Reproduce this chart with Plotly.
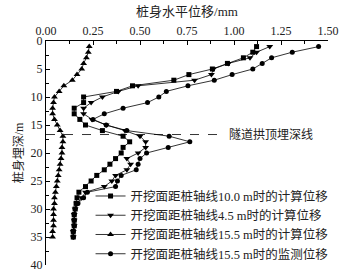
import plotly.graph_objects as go

depth = list(range(1, 36))

calc_10_0 = [1.12, 1.10, 1.05, 0.965, 0.885, 0.76, 0.68, 0.46, 0.375, 0.20,
             0.20, 0.15, 0.15, 0.18, 0.21, 0.30, 0.41, 0.445, 0.41, 0.40,
             0.37, 0.34, 0.31, 0.27, 0.24, 0.21, 0.175, 0.165, 0.16, 0.155,
             0.15, 0.15, 0.15, 0.145, 0.145]

calc_4_5 = [1.19, 1.12, 1.085, 0.97, 0.89, 0.88, 0.79, 0.49, 0.385, 0.30,
            0.24, 0.20, 0.20, 0.245, 0.32, 0.42, 0.50, 0.53, 0.53, 0.49,
            0.43, 0.45, 0.43, 0.37, 0.35, 0.31, 0.21, 0.19, 0.165, 0.155,
            0.15, 0.15, 0.15, 0.145, 0.145]

calc_15_5 = [0.23, 0.225, 0.215, 0.20, 0.19, 0.165, 0.14, 0.095, 0.07, 0.045,
             0.04, 0.035, 0.035, 0.045, 0.06, 0.075, 0.09, 0.09, 0.085, 0.085,
             0.08, 0.075, 0.07, 0.065, 0.06, 0.055, 0.05, 0.045, 0.045, 0.04,
             0.04, 0.04, 0.04, 0.035, 0.035]

monitor_15_5 = [1.45, 1.31, 1.20, 1.15, 1.10, 0.99, 0.895, 0.755, 0.64, 0.60,
                0.54, 0.41, 0.31, 0.25, 0.32, 0.43, 0.655, 0.765, 0.65, 0.535,
                0.50, 0.49, 0.48, 0.40, 0.38, 0.37, 0.22, 0.20, 0.17, 0.155,
                0.15, 0.15, 0.15, 0.145, 0.145]

series_names = [
    "开挖面距桩轴线10.0 m时的计算位移",
    "开挖面距桩轴线4.5 m时的计算位移",
    "开挖面距桩轴线15.5 m时的计算位移",
    "开挖面距桩轴线15.5 m时的监测位移",
]
symbols = ["square", "triangle-down", "triangle-up", "circle"]
marker_sizes = [5, 6, 6, 5]

TUNNEL_DEPTH = 16.7
TUNNEL_LINE_END = 0.94
TUNNEL_LABEL = "隧道拱顶埋深线"

x_tick_vals = [0, 0.25, 0.5, 0.75, 1.0, 1.25, 1.5]
y_tick_vals = [0, 5, 10, 15, 20, 25, 30, 35, 40]

FONT = "Liberation Serif, Noto Sans CJK SC, serif"

fig = go.Figure()
for name, vals, sym, ms in zip(series_names, [calc_10_0, calc_4_5, calc_15_5, monitor_15_5], symbols, marker_sizes):
    fig.add_trace(go.Scatter(
        x=vals, y=depth, name=name, mode="lines+markers",
        line=dict(color="black", width=0.8),
        marker=dict(symbol=sym, size=ms, color="black"),
    ))

fig.add_shape(type="line", xref="x", yref="y", x0=0, x1=TUNNEL_LINE_END,
              y0=TUNNEL_DEPTH, y1=TUNNEL_DEPTH,
              line=dict(color="black", width=0.8, dash="dash"))
fig.add_annotation(x=TUNNEL_LINE_END + 0.025, y=TUNNEL_DEPTH, xref="x", yref="y",
                   text=TUNNEL_LABEL, showarrow=False, xanchor="left", yanchor="middle",
                   font=dict(size=12, color="#222", family=FONT))

fig.update_layout(
    width=349, height=273,
    margin=dict(l=46, r=21, t=41, b=8, autoexpand=False),
    paper_bgcolor="white", plot_bgcolor="white",
    font=dict(family=FONT, size=12, color="#222"),
    showlegend=True,
    legend=dict(x=0.158, y=-0.015, xanchor="left", yanchor="bottom",
                bgcolor="rgba(0,0,0,0)", font=dict(size=12.5, family=FONT),
                tracegroupgap=0),
    xaxis=dict(
        side="top", range=[0, 1.5], tickvals=x_tick_vals, tickformat=".2f",
        ticks="inside", ticklen=4, tickcolor="black", automargin=False,
        minor=dict(dtick=0.125, ticks="inside", ticklen=3, tickcolor="black"),
        showline=True, linecolor="black", linewidth=1, mirror=False,
        showgrid=False, zeroline=False,
        title=dict(text="桩身水平位移/mm", font=dict(size=13), standoff=4),
        tickfont=dict(size=12),
    ),
    yaxis=dict(
        range=[40, 0], tickvals=y_tick_vals, automargin=False,
        ticks="inside", ticklen=4, tickcolor="black",
        minor=dict(dtick=2.5, ticks="inside", ticklen=3, tickcolor="black"),
        showline=True, linecolor="black", linewidth=1, mirror=False,
        showgrid=False, zeroline=False,
        title=dict(text="桩身埋深/m", font=dict(size=12), standoff=4),
        tickfont=dict(size=12),
    ),
)

fig.write_html("out.html", config={"displayModeBar": False},
               post_script="document.body.style.margin='0';")
